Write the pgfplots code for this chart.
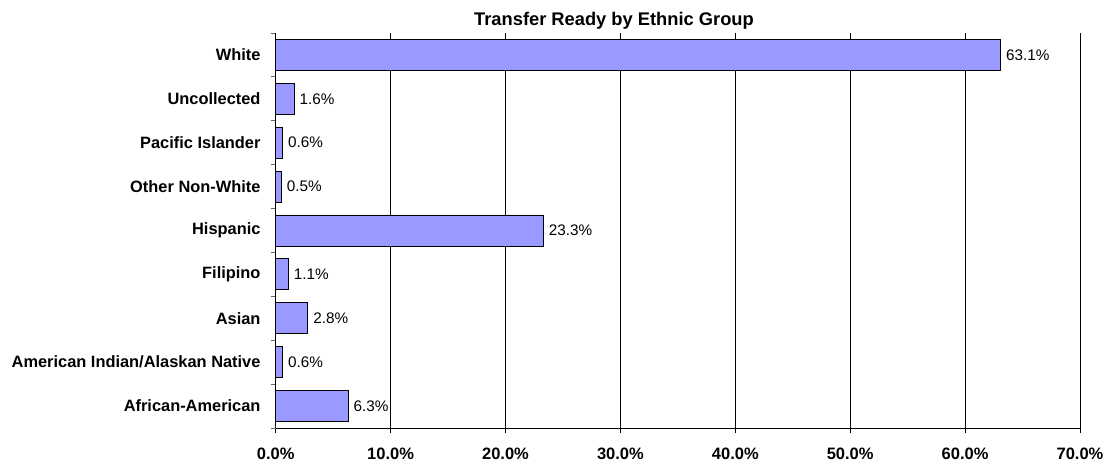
\documentclass[border=0pt]{standalone}
\usepackage{pgfplots}
\pgfplotsset{compat=1.18}
\usepackage{fontspec}
\setmainfont{Liberation Sans}
\definecolor{barfill}{HTML}{9999FF}
\begin{document}
\begin{tikzpicture}
\path[use as bounding box] (0,0) rectangle (1111pt,464pt);
\begin{axis}[
  at={(275.7pt,36pt)}, anchor=south west,
  scale only axis, width=804.3pt, height=395pt,
  xbar, bar width=31pt,
  xmin=0, xmax=70, ymin=-0.5, ymax=8.5,
  clip=false,
  axis lines*=left,
  axis line style={black, line width=0.8pt},
  xtick={0,10,...,70},
  xmajorgrids, grid style={black, line width=0.8pt},
  ytick={0,...,8},
  yticklabels={African-American, American Indian/Alaskan Native, Asian, Filipino, Hispanic, Other Non-White, Pacific Islander, Uncollected, White},
  minor ytick={-0.5,0.5,...,8.5},
  tick align=outside,
  major tick length=5pt, minor tick length=5pt,
  major y tick style={draw=none},
  minor y tick style={draw=black!60, line width=0.8pt},
  major x tick style={draw=black, line width=0.8pt},
  /pgf/number format/assume math mode=true,
  yticklabel style={font=\fontsize{16.4}{18}\selectfont\bfseries, anchor=east, inner sep=0pt, xshift=-10pt},
  xticklabel style={font=\fontsize{16.5}{18}\selectfont\bfseries, anchor=north, inner sep=0pt, yshift=-15pt},
  xticklabel={\pgfmathprintnumber[fixed,zerofill,precision=1]{\tick}\%},
  nodes near coords={\pgfmathprintnumber[fixed,zerofill,precision=1]{\pgfplotspointmeta}\%},
  nodes near coords style={font=\fontsize{15.3}{18}\selectfont, anchor=west, inner sep=0pt, xshift=5pt},
]
\addplot[fill=barfill, draw=black, line width=0.9pt] coordinates {
(6.3,0) (0.6,1) (2.8,2) (1.1,3) (23.3,4) (0.5,5) (0.6,6) (1.6,7) (63.1,8)};
\end{axis}
\node[anchor=base, inner sep=0pt, font=\fontsize{18.3}{20}\selectfont\bfseries] at (614pt,438pt) {Transfer Ready by Ethnic Group};
\end{tikzpicture}
\end{document}
